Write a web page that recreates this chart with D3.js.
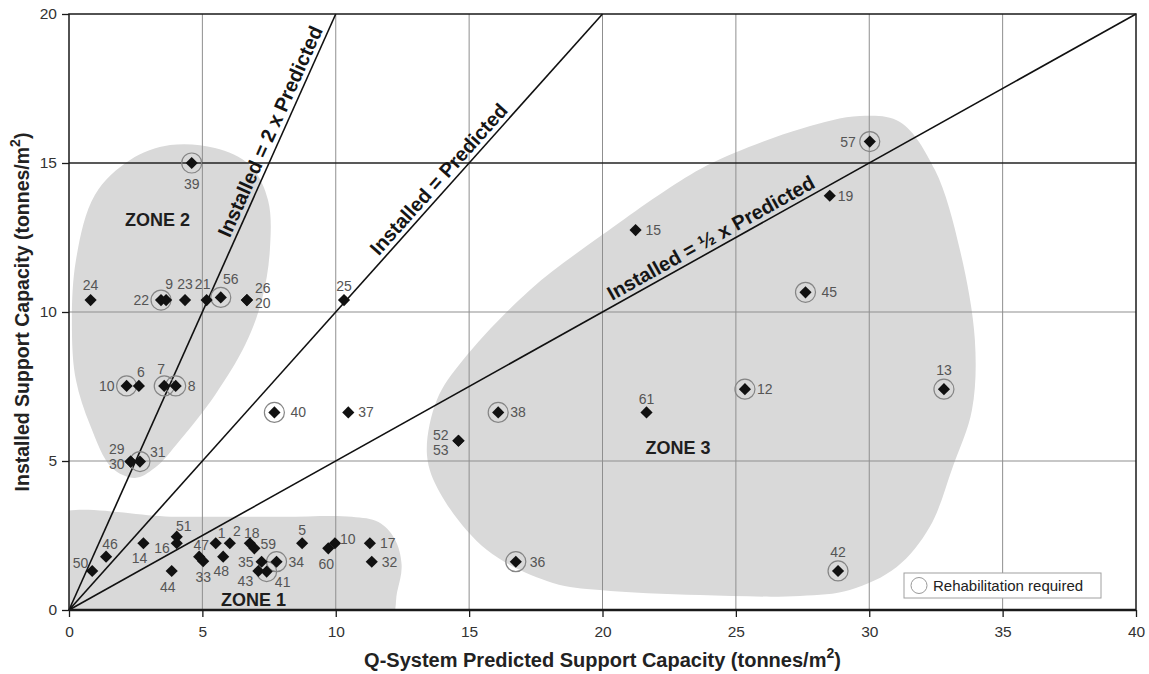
<!DOCTYPE html>
<html>
<head>
<meta charset="utf-8">
<script src="https://cdnjs.cloudflare.com/ajax/libs/d3/7.8.5/d3.min.js"></script>
<style>
  body { margin: 0; background: #fff; }
  svg { display: block; font-family: "Liberation Sans", Arial, sans-serif; }
</style>
</head>
<body>
<svg id="chart" width="1149" height="674"></svg>
<script>
// case numbers with predicted (Q-system) vs installed support, tonnes/m2
const caseLabels = ['39', '24', '22', '9', '23', '21', '56', '26', '20', '25',
  '10', '6', '7', '8', '40', '37', '29', '30', '31', '50',
  '46', '14', '51', '16', '44', '47', '33', '1', '2', '48',
  '18', '59', '35', '43', '41', '34', '5', '60', '10', '17',
  '32', '52', '53', '38', '61', '36', '15', '19', '45', '57',
  '12', '13', '42'];
const predicted = [4.6, 0.81, 3.45, 3.64, 4.35, 5.16, 5.69, 6.67, 6.67, 10.31,
  2.16, 2.62, 3.57, 4.0, 7.7, 10.47, 2.31, 2.31, 2.66, 0.87,
  1.39, 2.79, 4.04, 4.04, 3.85, 4.88, 5.03, 5.5, 6.03, 5.78,
  6.78, 6.95, 7.22, 7.1, 7.41, 7.78, 8.74, 9.72, 9.97, 11.28,
  11.35, 14.6, 14.6, 16.09, 21.65, 16.75, 21.24, 28.52, 27.61, 30.02,
  25.34, 32.8, 28.83];
const installed = [15.0, 10.4, 10.4, 10.4, 10.4, 10.4, 10.49, 10.4, 10.4, 10.4,
  7.52, 7.52, 7.52, 7.52, 6.63, 6.63, 4.98, 4.98, 4.98, 1.31,
  1.79, 2.24, 2.46, 2.24, 1.31, 1.79, 1.64, 2.24, 2.24, 1.79,
  2.24, 2.07, 1.62, 1.31, 1.29, 1.62, 2.24, 2.07, 2.24, 2.24,
  1.62, 5.68, 5.68, 6.63, 6.63, 1.62, 12.75, 13.9, 10.66, 15.72,
  7.41, 7.41, 1.31];
const rehab = [1, 0, 1, 0, 0, 0, 1, 0, 0, 0,
  1, 0, 1, 1, 1, 0, 0, 0, 1, 0,
  0, 0, 0, 0, 0, 0, 0, 0, 0, 0,
  0, 0, 0, 0, 1, 1, 0, 0, 0, 0,
  0, 0, 0, 1, 0, 1, 0, 0, 1, 1,
  1, 1, 1];

const xTicks = [0, 5, 10, 15, 20, 25, 30, 35, 40];
const yTicks = [0, 5, 10, 15, 20];
const ratios = [2, 1, 0.5];
const ratioLabels = ['Installed = 2 x Predicted', 'Installed = Predicted', 'Installed = \u00bd x Predicted'];
const refLevels = [15];
const zoneNames = ['ZONE 1', 'ZONE 2', 'ZONE 3'];
const legendText = 'Rehabilitation required';

// zone outlines, in chart units
const zone1 = [[-0.6, 3.13], [4, 3.13], [8, 3.13], [10.6, 3.13], [11.6, 2.95], [12.2, 2.4],
  [12.47, 1.5], [12.3, 0.6], [12.0, -0.4], [8, -0.6], [4, -0.6], [-0.6, -0.6], [-0.6, 1.5]];
const zone2 = [[0.11, 9.4], [0.26, 11.74], [0.97, 13.93], [2.29, 15.1], [3.79, 15.6], [5.47, 15.5],
  [6.78, 14.93], [7.46, 13.76], [7.53, 12.08], [7.23, 10.4], [6.6, 8.89], [5.47, 7.21],
  [4.16, 5.7], [3.22, 4.77], [2.47, 4.43], [1.61, 4.77], [0.79, 6.21], [0.26, 7.72]];
const zone3 = [[13.42, 5.2], [13.79, 7.05], [14.77, 8.39], [17.28, 10.74], [19.98, 12.58],
  [23.28, 14.6], [24.96, 15.34], [27.51, 16.17], [29.65, 16.58], [31.15, 16.38], [32.46, 14.77],
  [33.4, 12.08], [33.96, 9.06], [33.85, 6.71], [33.13, 4.8], [32.27, 2.79], [31.03, 1.44],
  [29.27, 0.67], [27.4, 0.47], [23.65, 0.5], [19.9, 0.67], [18.14, 0.91], [15.67, 2.01], [13.91, 3.93]];

// layout: where annotations sit
const zoneLabelAt = [[6.92, 0.34], [3.32, 13.09], [22.83, 5.44]];
const ratioLabelStart = [6.2, 11.75, 20.45];
// label offset from marker in px: [dx, dy, anchor]
const labelOffsets = [
  [0, 21, 'middle'], [0, -15, 'middle'], [-12, 0, 'end'], [3, -16, 'middle'], [0, -16, 'middle'],
  [-4, -16, 'middle'], [10, -18, 'middle'], [8, -12, 'start'], [8, 3, 'start'], [0, -14, 'middle'],
  [-12, 0, 'end'], [2, -14, 'middle'], [-3, -17, 'middle'], [12, 0, 'start'], [16, 0, 'start'],
  [10, 0, 'start'], [-6, -13, 'end'], [-6, 2, 'end'], [10, -10, 'start'], [-4, -8, 'end'],
  [4, -13, 'middle'], [-4, 15, 'middle'], [7, -11, 'middle'], [-7, 5, 'end'], [-4, 16, 'middle'],
  [2, -12, 'middle'], [0, 16, 'middle'], [6, -10, 'middle'], [7, -12, 'middle'], [-2, 14, 'middle'],
  [2, -10, 'middle'], [6, -4, 'start'], [-8, 0, 'end'], [-13, 10, 'middle'], [16, 10, 'middle'],
  [12, 0, 'start'], [0, -13, 'middle'], [-2, 16, 'middle'], [5, -4, 'start'], [10, 0, 'start'],
  [10, 0, 'start'], [-10, -6, 'end'], [-10, 9, 'end'], [12, 0, 'start'], [0, -13, 'middle'],
  [14, 0, 'start'], [10, 0, 'start'], [8, 0, 'start'], [16, 0, 'start'], [-14, 0, 'end'],
  [12, 0, 'start'], [0, -19, 'middle'], [0, -19, 'middle']];

const W = 1149, H = 674;
const margin = {top: 14, right: 13, bottom: 64, left: 69};
const pw = W - margin.left - margin.right;
const ph = H - margin.top - margin.bottom;

const svg = d3.select('#chart');
const x = d3.scaleLinear().domain([0, 40]).range([0, pw]);
const y = d3.scaleLinear().domain([0, 20]).range([ph, 0]);

svg.append('defs').append('clipPath').attr('id', 'plotClip')
  .append('rect').attr('width', pw).attr('height', ph);

const g = svg.append('g').attr('transform', `translate(${margin.left},${margin.top})`);

// zones
const zoneLine = d3.line().x(d => x(d[0])).y(d => y(d[1])).curve(d3.curveCatmullRomClosed.alpha(0.5));
g.append('g').attr('clip-path', 'url(#plotClip)')
  .selectAll('path').data([zone1, zone2, zone3]).join('path')
  .attr('d', zoneLine)
  .attr('fill', '#d9d9d9');

// grid
g.append('g').selectAll('line').data(xTicks.slice(1, -1)).join('line')
  .attr('x1', d => x(d)).attr('x2', d => x(d))
  .attr('y1', 0).attr('y2', ph)
  .attr('stroke', '#8f8f8f').attr('stroke-width', 1);
g.append('g').selectAll('line').data(yTicks.filter(d => d > 0 && d < 20 && !refLevels.includes(d))).join('line')
  .attr('x1', 0).attr('x2', pw)
  .attr('y1', d => y(d)).attr('y2', d => y(d))
  .attr('stroke', '#8f8f8f').attr('stroke-width', 1);
g.append('g').selectAll('line').data(refLevels).join('line')
  .attr('x1', 0).attr('x2', pw)
  .attr('y1', d => y(d)).attr('y2', d => y(d))
  .attr('stroke', '#222').attr('stroke-width', 1.6);

// ratio lines
g.append('g').selectAll('line').data(ratios).join('line')
  .attr('x1', x(0)).attr('y1', y(0))
  .attr('x2', r => x(Math.min(40, 20 / r)))
  .attr('y2', r => y(Math.min(40, 20 / r) * r))
  .attr('stroke', '#111').attr('stroke-width', 1.6);

g.append('g').selectAll('text').data(ratios).join('text')
  .attr('transform', (r, i) => {
    const ang = Math.atan2(y(0) - y(r), x(1) - x(0)) * 180 / Math.PI;
    return `translate(${x(ratioLabelStart[i])},${y(ratioLabelStart[i] * r)}) rotate(${-ang})`;
  })
  .attr('dy', -5)
  .attr('font-size', 20).attr('font-weight', 'bold').attr('fill', '#151515')
  .text((r, i) => ratioLabels[i]);

// zone names
g.append('g').selectAll('text').data(zoneNames).join('text')
  .attr('x', (d, i) => x(zoneLabelAt[i][0]))
  .attr('y', (d, i) => y(zoneLabelAt[i][1]))
  .attr('text-anchor', 'middle').attr('dominant-baseline', 'central')
  .attr('font-size', 18).attr('font-weight', 'bold').attr('fill', '#1e1e1e')
  .text(d => d);

// frame and axes
g.append('rect').attr('width', pw).attr('height', ph)
  .attr('fill', 'none').attr('stroke', '#1a1a1a').attr('stroke-width', 1.5);
g.append('line').attr('x1', 0).attr('x2', pw).attr('y1', ph).attr('y2', ph)
  .attr('stroke', '#1a1a1a').attr('stroke-width', 2.5);

const xAxis = g.append('g').attr('transform', `translate(0,${ph})`)
  .call(d3.axisBottom(x).tickValues(xTicks).tickSize(7).tickPadding(9));
const yAxis = g.append('g')
  .call(d3.axisLeft(y).tickValues(yTicks).tickSize(7).tickPadding(5));
[xAxis, yAxis].forEach(ax => {
  ax.select('.domain').remove();
  ax.selectAll('.tick line').attr('stroke', '#1a1a1a').attr('stroke-width', 1.3);
  ax.selectAll('.tick text').attr('font-size', 15.5).attr('fill', '#333')
    .attr('font-family', '"Liberation Sans", Arial, sans-serif');
});

// points
const pts = caseLabels.map((lab, i) => ({lab, px: predicted[i], inst: installed[i], rehab: rehab[i], off: labelOffsets[i]}));

g.append('g').selectAll('circle').data(pts.filter(d => d.rehab)).join('circle')
  .attr('cx', d => x(d.px)).attr('cy', d => y(d.inst)).attr('r', 10)
  .attr('fill', 'none').attr('stroke', '#858585').attr('stroke-width', 1.2);

const diamond = d3.symbol(d3.symbolSquare, 74);
g.append('g').selectAll('path').data(pts).join('path')
  .attr('d', diamond)
  .attr('transform', d => `translate(${x(d.px)},${y(d.inst)}) rotate(45)`)
  .attr('fill', '#111');

g.append('g').selectAll('text').data(pts).join('text')
  .attr('x', d => x(d.px) + d.off[0])
  .attr('y', d => y(d.inst) + d.off[1])
  .attr('text-anchor', d => d.off[2])
  .attr('dominant-baseline', 'central')
  .attr('font-size', 14).attr('fill', '#555')
  .text(d => d.lab);

// legend
const lg = g.append('g').attr('transform', `translate(${pw - 232},${ph - 37})`);
lg.append('rect').attr('width', 197).attr('height', 25)
  .attr('fill', '#fff').attr('stroke', '#a0a0a0').attr('stroke-width', 1);
lg.append('circle').attr('cx', 15).attr('cy', 12.5).attr('r', 8)
  .attr('fill', 'none').attr('stroke', '#999').attr('stroke-width', 1);
lg.append('text').attr('x', 29).attr('y', 12.5).attr('dominant-baseline', 'central')
  .attr('font-size', 15).attr('fill', '#222').text(legendText);

// axis titles
svg.append('text')
  .attr('x', margin.left + pw / 2).attr('y', 660)
  .attr('text-anchor', 'middle').attr('dominant-baseline', 'central')
  .attr('font-size', 20).attr('font-weight', 'bold').attr('fill', '#222')
  .call(t => {
    t.append('tspan').text('Q-System Predicted Support Capacity (tonnes/m');
    t.append('tspan').attr('dy', -7).attr('font-size', 14).text('2');
    t.append('tspan').attr('dy', 7).text(')');
  });

svg.append('text')
  .attr('transform', `translate(22,${margin.top + ph / 2}) rotate(-90)`)
  .attr('text-anchor', 'middle').attr('dominant-baseline', 'central')
  .attr('font-size', 19.5).attr('font-weight', 'bold').attr('fill', '#222')
  .call(t => {
    t.append('tspan').text('Installed Support Capacity (tonnes/m');
    t.append('tspan').attr('dy', -7).attr('font-size', 14).text('2');
    t.append('tspan').attr('dy', 7).text(')');
  });
</script>
</body>
</html>
